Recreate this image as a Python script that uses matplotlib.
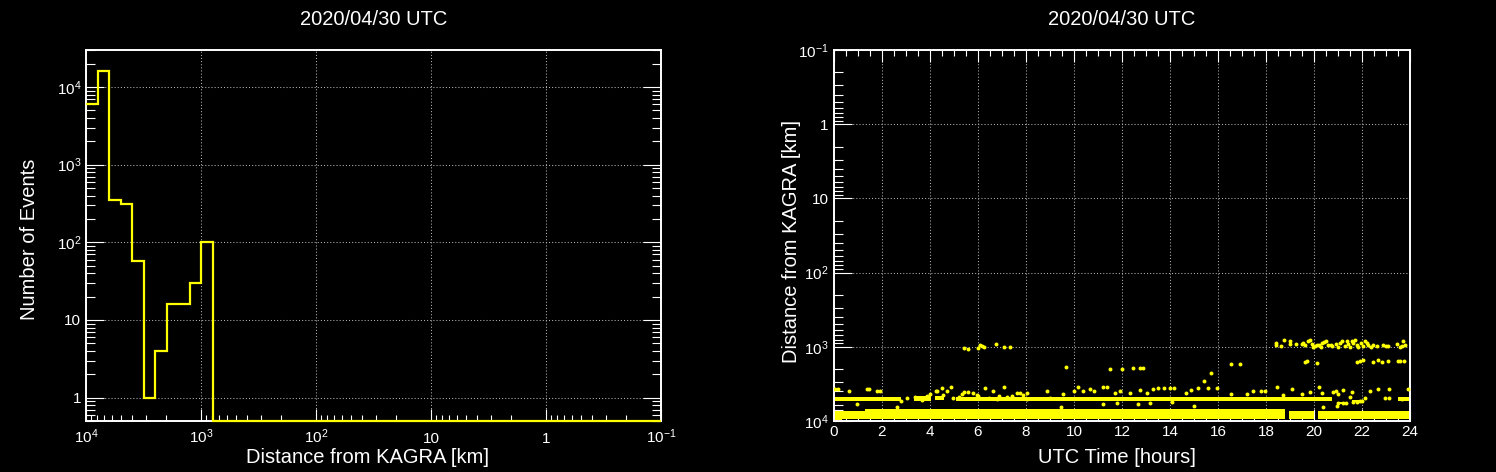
import numpy as np
import matplotlib
matplotlib.use("Agg")
import matplotlib.pyplot as plt
from matplotlib.ticker import FixedLocator, FixedFormatter, LogLocator, NullFormatter, MultipleLocator

plt.rcParams['font.family'] = ['Liberation Sans', 'DejaVu Sans']
plt.rcParams['mathtext.fontset'] = 'custom'
plt.rcParams['mathtext.rm'] = 'Liberation Sans'
plt.rcParams['mathtext.it'] = 'Liberation Sans:italic'
plt.rcParams['mathtext.bf'] = 'Liberation Sans:bold'

# ---------------- data ----------------
title_text = "2020/04/30 UTC"

# histogram: 50 log-bins from 10^4 km down to 10^-1 km
hist_edges_km = np.logspace(4, -1, 51)
hist_counts = [6000, 16000, 350, 310, 58, 1, 4, 16, 16, 30, 100] + [0] * 39

dist_tick_values = [1e4, 1e3, 1e2, 10, 1, 0.1]
dist_tick_labels = [r'$\mathregular{10^{4}}$', r'$\mathregular{10^{3}}$', r'$\mathregular{10^{2}}$',
                    '10', '1', r'$\mathregular{10^{-1}}$']
count_tick_values = [1e4, 1e3, 1e2, 10, 1]
count_tick_labels = [r'$\mathregular{10^{4}}$', r'$\mathregular{10^{3}}$', r'$\mathregular{10^{2}}$',
                     '10', '1']
hour_ticks = [0, 2, 4, 6, 8, 10, 12, 14, 16, 18, 20, 22, 24]
hour_labels = [str(h) for h in hour_ticks]

# dense event band (start h, end h, min km, max km)
main_start = [0.0, 0.35, 1.3, 18.95, 20.15]
main_end = [0.35, 1.3, 18.8, 20.0, 24.0]
main_lo = [7300, 7300, 6800, 7300, 7300]
main_hi = [9800, 9300, 9300, 9300, 9300]

# secondary band near 5000 km
sec_start = [0.0, 3.35, 4.2, 5.1, 21.0, 21.6, 23.5]
sec_end = [2.8, 4.05, 4.6, 20.75, 21.35, 22.0, 24.0]
sec_lo = [4700, 4650, 4650, 4700, 5500, 5250, 4800]
sec_hi = [5350, 5300, 5250, 5350, 5950, 5600, 5300]

# individual events ~1000 km
far_time = [5.42, 5.58, 6.0, 6.08, 6.15, 6.25, 6.74, 7.08, 7.35,
            18.42, 18.42, 18.61, 18.75, 19.01, 19.01, 19.24, 19.49, 19.56, 19.63,
            19.76, 19.82, 19.90, 19.97, 20.04, 20.11, 20.21, 20.29, 20.35, 20.43,
            20.49, 20.60, 20.69, 20.76, 20.90, 21.01, 21.08, 21.15, 21.29, 21.36,
            21.43, 21.50, 21.57, 21.64, 21.71, 21.78, 21.85, 21.96, 22.04, 22.13,
            22.19, 22.26, 22.38, 22.47, 22.61, 22.89, 22.99, 23.07, 23.45, 23.58,
            23.65, 23.72, 23.79]
far_dist = [1050, 1070, 1040, 960, 975, 1000, 930, 1010, 1000,
            880, 935, 975, 810, 840, 920, 930, 920, 880, 945,
            830, 810, 920, 1000, 975, 945, 955, 1000, 900, 865,
            830, 955, 945, 965, 930, 1000, 900, 845, 975, 845,
            920, 1000, 830, 900, 810, 945, 1020, 880, 975, 845,
            900, 955, 1000, 945, 975, 945, 965, 975, 930, 1000,
            975, 845, 945]

# individual events 1500-3000 km
mid_time = [9.68, 11.51, 11.99, 12.47, 12.75, 12.89, 15.43, 15.72, 16.53, 16.91,
            19.63, 19.70, 20.11, 21.78, 21.92, 22.06, 22.47, 22.68, 22.82, 23.10,
            23.49, 23.58, 23.76]
mid_dist = [1890, 2010, 2010, 1960, 1960, 1960, 2920, 2280, 1720, 1720,
            1590, 1550, 1650, 1620, 1550, 1520, 1610, 1520, 1590, 1560,
            1570, 1570, 1530]

# individual events 3000-6600 km
near_time = [0.04, 0.18, 0.63, 0.97, 1.36, 1.47, 1.81, 1.92, 2.61, 2.79, 3.06, 3.38,
             3.65, 3.86, 4.0, 4.25, 4.31, 4.49, 4.56, 4.72, 4.88, 4.97, 5.22, 5.32,
             5.43, 5.6, 5.78, 5.94, 6.01, 6.29, 6.47, 6.64, 6.78, 6.89, 7.08, 7.19,
             7.40, 7.61, 7.75, 7.89, 8.06,
             8.03, 8.86, 9.0, 9.53, 10.01, 10.18, 10.39, 10.67, 10.85, 11.22, 11.36,
             11.71, 11.92, 12.33, 12.75, 13.03, 13.31, 13.51, 13.76, 14.0, 14.18,
             14.67, 14.87, 15.15, 15.57, 15.97, 9.46, 11.22, 11.78, 12.68, 13.17,
             14.07, 15.01,
             16.54, 17.19, 17.47, 17.79, 17.96, 18.47, 18.72, 19.10, 19.51, 19.83,
             20.22, 20.35, 20.80, 20.92, 21.01, 21.22, 21.50, 21.60, 21.92, 22.13,
             22.33, 22.68, 22.96, 23.12, 23.12, 23.65, 23.93, 20.39, 20.94, 21.01,
             21.19, 21.35, 21.64, 21.78, 21.99]
near_dist = [3760, 3760, 3950, 5950, 3760, 3760, 3950, 3950, 6410, 5380, 4950, 4700,
             5200, 4600, 4330, 3950, 3950, 3630, 4460, 3950, 3450, 4850, 4800, 4330,
             4110, 4110, 4240, 4460, 4600, 3630, 4950, 3950, 5100, 4600, 3520, 4800,
             4600, 4240, 4150, 4460, 5050,
             4240, 3950, 4950, 4330, 3950, 3450, 3950, 3700, 3900, 3520, 3520,
             4150, 3900, 4240, 3820, 4240, 3700, 3630, 3630, 3630, 3630,
             4240, 3820, 3630, 3630, 3630, 6550, 5900, 5780, 5900, 5780,
             5490, 6250,
             4330, 4330, 3950, 3950, 3950, 3520, 4460, 3760, 4330, 4070,
             3520, 4150, 4070, 3900, 4330, 3860, 4800, 4070, 5380, 4900,
             3990, 3760, 4950, 3760, 4950, 5050, 3760, 6550, 6250, 5780,
             5780, 5780, 5490, 5490, 5330]

# ---------------- figure ----------------
W, H = 1496, 472
fig = plt.figure(figsize=(W / 100, H / 100), dpi=100, facecolor='black')
ax1 = fig.add_axes([86 / W, 1 - 421 / H, 575 / W, 371 / H])
ax2 = fig.add_axes([834 / W, 1 - 421 / H, 576 / W, 371 / H])

yellow = '#ffff00'
grid_kw = dict(color='#b4b4b4', linestyle=(0, (1, 2)), linewidth=0.75)


def base_style(ax):
    ax.set_facecolor('black')
    for s in ax.spines.values():
        s.set_color('white')
        s.set_linewidth(1.4)
    ax.tick_params(which='both', colors='white', labelcolor='white', direction='in', width=0.8)
    ax.set_axisbelow(True)


# ----- left: histogram -----
base_style(ax1)
ax1.set_xscale('log')
ax1.set_yscale('log')
ax1.set_xlim(1e4, 0.1)
ax1.set_ylim(0.5, 3.0e4)
counts = np.array(hist_counts, dtype=float)
ylow = ax1.get_ylim()[0]
ax1.stairs(np.where(counts > 0, counts, ylow), hist_edges_km, baseline=None,
           color=yellow, linewidth=1.6, zorder=3, clip_on=False)

ax1.xaxis.set_major_locator(FixedLocator(dist_tick_values))
ax1.xaxis.set_major_formatter(FixedFormatter(dist_tick_labels))
ax1.xaxis.set_minor_locator(LogLocator(base=10, subs=np.arange(2, 10)))
ax1.xaxis.set_minor_formatter(NullFormatter())
ax1.yaxis.set_major_locator(FixedLocator(count_tick_values))
ax1.yaxis.set_major_formatter(FixedFormatter(count_tick_labels))
ax1.yaxis.set_minor_locator(LogLocator(base=10, subs=np.arange(2, 10)))
ax1.yaxis.set_minor_formatter(NullFormatter())
ax1.tick_params(axis='y', which='both', left=True, right=True)
ax1.tick_params(axis='y', which='major', length=13, pad=3.5, labelsize=11)
ax1.tick_params(axis='y', which='minor', length=6.5)
ax1.tick_params(axis='x', which='both', bottom=True, top=False)
ax1.tick_params(axis='x', which='major', length=8.6, pad=15.5, labelsize=11)
ax1.tick_params(axis='x', which='minor', length=4.3)
ax1.grid(True, which='major', **grid_kw)

ax1.set_xlabel('Distance from KAGRA [km]', color='white', fontsize=14.5)
ax1.xaxis.set_label_coords(0.49, -0.0997)
ax1.xaxis.label.set_va('center')
ax1.set_ylabel('Number of Events', color='white', fontsize=14.5)
ax1.yaxis.set_label_coords(-0.099, 0.49)
ax1.yaxis.label.set_va('center')
ax1.text(0.5, 1.081, title_text, transform=ax1.transAxes, ha='center', va='center',
         color='white', fontsize=14.5)

# ----- right: time vs distance -----
base_style(ax2)
ax2.set_yscale('log')
ax2.set_xlim(0, 24)
ax2.set_ylim(1e4, 0.1)

for s, e, lo, hi in zip(main_start, main_end, main_lo, main_hi):
    ax2.fill_between([s, e], [lo, lo], [hi, hi], color=yellow, linewidth=0, zorder=2)
for s, e, lo, hi in zip(sec_start, sec_end, sec_lo, sec_hi):
    ax2.fill_between([s, e], [lo, lo], [hi, hi], color=yellow, linewidth=0, zorder=2)

ax2.scatter(near_time, near_dist, s=8, color=yellow, linewidths=0, zorder=3)
ax2.scatter(mid_time, mid_dist, s=8, color=yellow, linewidths=0, zorder=3)
ax2.scatter(far_time, far_dist, s=8, color=yellow, linewidths=0, zorder=3)

ax2.xaxis.set_major_locator(FixedLocator(hour_ticks))
ax2.xaxis.set_major_formatter(FixedFormatter(hour_labels))
ax2.xaxis.set_minor_locator(MultipleLocator(0.5))
ax2.yaxis.set_major_locator(FixedLocator(dist_tick_values))
ax2.yaxis.set_major_formatter(FixedFormatter(dist_tick_labels))
ax2.yaxis.set_minor_locator(LogLocator(base=10, subs=np.arange(2, 10)))
ax2.yaxis.set_minor_formatter(NullFormatter())
ax2.tick_params(axis='y', which='both', left=True, right=False)
ax2.tick_params(axis='y', which='major', length=13, pad=4, labelsize=11)
ax2.tick_params(axis='y', which='minor', length=6.5)
ax2.tick_params(axis='x', which='both', bottom=True, top=True)
ax2.tick_params(axis='x', which='major', length=8.6, pad=10.8, labelsize=11)
ax2.tick_params(axis='x', which='minor', length=4.3)
ax2.grid(True, which='major', **grid_kw)

ax2.set_xlabel('UTC Time [hours]', color='white', fontsize=14.5)
ax2.xaxis.set_label_coords(0.491, -0.0997)
ax2.xaxis.label.set_va('center')
ax2.set_ylabel('Distance from KAGRA [km]', color='white', fontsize=14.5)
ax2.yaxis.set_label_coords(-0.074, 0.484)
ax2.yaxis.label.set_va('center')
ax2.text(0.5, 1.081, title_text, transform=ax2.transAxes, ha='center', va='center',
         color='white', fontsize=14.5)

# baseline-align the x tick labels (ROOT style)
for ax in (ax1, ax2):
    for t in ax.xaxis.get_major_ticks():
        t.label1.set_verticalalignment('baseline')

fig.savefig('out.png', dpi=100, facecolor='black')
